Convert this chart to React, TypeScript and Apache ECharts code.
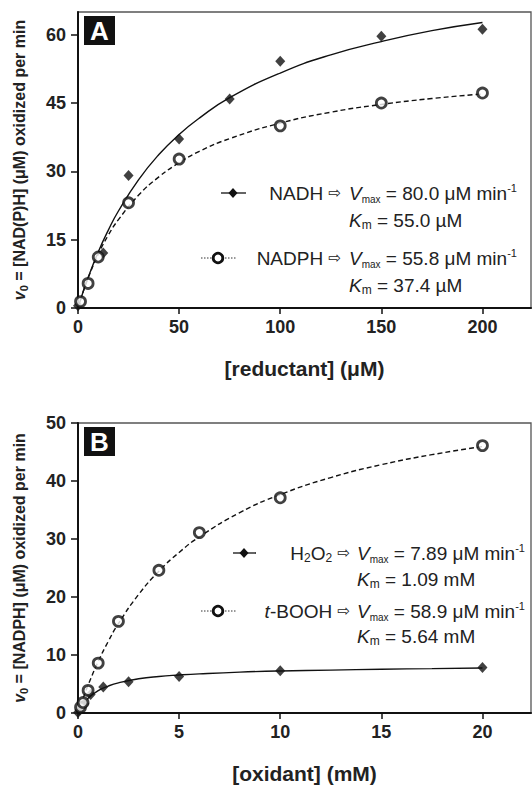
import React, { useEffect, useRef } from "react";
import * as echarts from "echarts";

// ---- tick labels ----
const reductantTicks = [0, 50, 100, 150, 200];
const rateTicksA = [0, 15, 30, 45, 60];
const oxidantTicks = [0, 5, 10, 15, 20];
const rateTicksB = [0, 10, 20, 30, 40, 50];

// ---- Panel A measured points ----
const nadhConc = [0, 12.5, 25, 50, 75, 100, 150, 200];
const nadhRate = [0.5, 12.1, 29.1, 37.1, 45.9, 54.2, 59.7, 61.2];
const nadphConc = [1.25, 5, 10, 25, 50, 100, 150, 200];
const nadphRate = [1.4, 5.4, 11.2, 23.1, 32.7, 40.0, 45.0, 47.2];

// ---- Panel A fitted curves ----
const fitConcA = [0, 2.5, 5, 10, 15, 20, 30, 40, 50, 60, 75, 100, 125, 150, 175, 200];
const nadhFit = [0, 3.5, 6.7, 12.3, 17.1, 21.3, 28.2, 33.7, 38.1, 41.7, 46.2, 51.6, 55.6, 58.5, 60.9, 62.7];
const nadphFit = [0, 3.5, 6.6, 11.8, 16.0, 19.4, 24.8, 28.8, 31.9, 34.4, 37.2, 40.6, 43.0, 44.7, 46.0, 47.0];

// ---- Panel B measured points ----
const h2o2Conc = [0, 0.078, 0.156, 0.3125, 0.625, 1.25, 2.5, 5, 10, 20];
const h2o2Rate = [0.1, 0.5, 0.9, 1.6, 3.2, 4.5, 5.4, 6.3, 7.3, 7.85];
const tboohConc = [0.125, 0.25, 0.5, 1, 2, 4, 6, 10, 20];
const tboohRate = [1.0, 1.8, 3.9, 8.6, 15.8, 24.6, 31.1, 37.1, 46.1];

// ---- Panel B fitted curves ----
const fitConcB = [0, 0.125, 0.25, 0.5, 1, 1.5, 2, 3, 4, 5, 6, 8, 10, 12.5, 15, 17.5, 20];
const h2o2Fit = [0, 0.85, 1.5, 2.55, 3.85, 4.65, 5.2, 5.9, 6.3, 6.55, 6.75, 7.05, 7.25, 7.4, 7.55, 7.65, 7.75];
const tboohFit = [0, 1.28, 2.5, 4.8, 8.87, 12.37, 15.42, 20.45, 24.44, 27.68, 30.36, 34.55, 37.66, 40.59, 42.81, 44.54, 45.94];

const FONT = "'Liberation Sans', Arial, Helvetica, sans-serif";
const INK = "#111";
const TXT = "#222";

const zip = (xs: number[], ys: number[]) => xs.map((x, i) => [x, ys[i]]);

const rich = {
  t: { fontSize: 19, fontFamily: FONT, color: TXT, lineHeight: 22 },
  i: { fontSize: 19, fontFamily: FONT, color: TXT, fontStyle: "italic", lineHeight: 22 },
  sub: { fontSize: 10, fontFamily: FONT, color: TXT, lineHeight: 10, verticalAlign: "bottom" },
  subm: { fontSize: 12, fontFamily: FONT, color: TXT, lineHeight: 12, verticalAlign: "bottom" },
  sup: { fontSize: 11, fontFamily: FONT, color: TXT, lineHeight: 11, verticalAlign: "top" },
  ar: { fontSize: 15, fontFamily: "'DejaVu Sans', sans-serif", color: "#333", lineHeight: 22 },
};

const titleRich = {
  b: { fontSize: 16, fontFamily: FONT, fontWeight: "bold", color: TXT, lineHeight: 20 },
  v: { fontSize: 16, fontFamily: FONT, fontWeight: "bold", fontStyle: "italic", color: TXT, lineHeight: 20 },
  s: { fontSize: 11, fontFamily: FONT, fontWeight: "bold", color: TXT, lineHeight: 11, verticalAlign: "bottom" },
};

function xAxisCfg(grid: number, max: number, ticks: number[], name: string, gap: number) {
  return {
    type: "value",
    gridIndex: grid,
    min: 0,
    max,
    interval: ticks[1] - ticks[0],
    name,
    nameLocation: "middle",
    nameGap: gap,
    nameTextStyle: { fontSize: 21, fontWeight: "bold", fontFamily: FONT, color: TXT },
    axisLine: { show: true, onZero: false, lineStyle: { color: INK, width: 2 } },
    axisTick: { show: true, length: 6, customValues: ticks, lineStyle: { color: INK, width: 1.5 } },
    axisLabel: { customValues: ticks, margin: 10, fontSize: 18, fontWeight: "bold", fontFamily: FONT, color: TXT },
    splitLine: { show: false },
  };
}

function yAxisCfg(grid: number, max: number, ticks: number[], name: string) {
  return {
    type: "value",
    gridIndex: grid,
    min: 0,
    max,
    interval: ticks[1] - ticks[0],
    name,
    nameLocation: "middle",
    nameGap: 49,
    nameTextStyle: { rich: titleRich },
    axisLine: { show: true, onZero: false, lineStyle: { color: INK, width: 2 } },
    axisTick: { show: true, length: 7, customValues: ticks, lineStyle: { color: INK, width: 1.5 } },
    axisLabel: { customValues: ticks, margin: 12, fontSize: 18, fontWeight: "bold", fontFamily: FONT, color: TXT },
    splitLine: { show: false },
  };
}

function diamondIcon(cx: number, cy: number) {
  return {
    type: "polygon",
    shape: { points: [[cx, cy - 5], [cx + 4.5, cy], [cx, cy + 5], [cx - 4.5, cy]] },
    style: { fill: INK },
  };
}

function legendRows(
  y1: number, y2: number, y3: number, y4: number,
  splitX: number, vx: number,
  row1Left: string, row1Right: string, row2: string,
  row3Left: string, row3Right: string, row4: string,
  icon1: [number, number, number], icon2: [number, number, number]
) {
  const els: any[] = [];
  els.push({ type: "line", shape: { x1: icon1[0], y1: y1, x2: icon1[2], y2: y1 }, style: { stroke: INK, lineWidth: 1.3 } });
  els.push(diamondIcon(icon1[1], y1));
  els.push({ type: "line", shape: { x1: icon2[0], y1: y3, x2: icon2[2], y2: y3 }, style: { stroke: "#333", lineWidth: 1, lineDash: [1.5, 1.5] } });
  els.push({ type: "circle", shape: { cx: icon2[1], cy: y3, r: 4.8 }, style: { fill: "#fff", stroke: INK, lineWidth: 2.8 } });
  const txt = (x: number, y: number, text: string, align: string) => ({
    type: "text", x, y,
    style: { text, rich, align, verticalAlign: "middle", fill: TXT, font: `19px ${FONT}` },
  });
  els.push(txt(splitX, y1, row1Left, "right"));
  els.push(txt(vx, y1, row1Right, "left"));
  els.push(txt(vx, y2, row2, "left"));
  els.push(txt(splitX, y3, row3Left, "right"));
  els.push(txt(vx, y3, row3Right, "left"));
  els.push(txt(vx, y4, row4, "left"));
  return els;
}

function panelLabel(x: number, y: number, letter: string) {
  return [
    { type: "rect", shape: { x, y, width: 31, height: 29 }, style: { fill: INK } },
    {
      type: "text", x: x + 15.5, y: y + 15,
      style: { text: letter, fill: "#fff", font: `bold 26px ${FONT}`, align: "center", verticalAlign: "middle" },
    },
  ];
}

export default function App() {
  const ref = useRef<HTMLDivElement>(null);
  useEffect(() => {
    if (!ref.current) return;
    const chart = echarts.init(ref.current, null, { renderer: "svg" });

    const lineBase = { type: "line", showSymbol: false, smooth: true, silent: true, z: 2 };
    const diamond = {
      type: "scatter", symbol: "diamond", symbolSize: [10, 11],
      itemStyle: { color: INK }, z: 4, clip: false,
    };
    const ring = {
      type: "scatter", symbol: "circle", symbolSize: 10,
      itemStyle: { color: "#fff", borderColor: INK, borderWidth: 2.8 }, z: 5, clip: false,
    };

    const graphic: any[] = [
      ...panelLabel(84, 16, "A"),
      ...panelLabel(84, 427, "B"),
      ...legendRows(
        193, 220, 258, 285, 341, 349,
        "{t|NADH }{ar|⇨}", "{i|V}{sub|max}{t| = 80.0 μM min}{sup|-1}", "{i|K}{subm|m}{t| = 55.0 µM}",
        "{t|NADPH }{ar|⇨}", "{i|V}{sub|max}{t| = 55.8 μM min}{sup|-1}", "{i|K}{subm|m}{t| = 37.4 µM}",
        [221, 233, 246], [201, 218, 236]
      ),
      ...legendRows(
        553, 579, 611, 636, 350, 357,
        "{t|H}{subm|2}{t|O}{subm|2}{t| }{ar|⇨}", "{i|V}{sub|max}{t| = 7.89 μM min}{sup|-1}", "{i|K}{subm|m}{t| = 1.09 mM}",
        "{i|t}{t|-BOOH }{ar|⇨}", "{i|V}{sub|max}{t| = 58.9 μM min}{sup|-1}", "{i|K}{subm|m}{t| = 5.64 mM}",
        [233, 244, 256], [201, 218, 236]
      ),
    ];

    chart.setOption({
      animation: false,
      backgroundColor: "#fff",
      grid: [
        { left: 78, top: 12, width: 453, height: 296, show: true, borderColor: "#555", borderWidth: 1.3, backgroundColor: "transparent" },
        { left: 78, top: 423, width: 453, height: 295, show: true, borderColor: "#555", borderWidth: 1.3, backgroundColor: "transparent" },
      ],
      xAxis: [
        xAxisCfg(0, 224, reductantTicks, "[reductant] (μM)", 50),
        xAxisCfg(1, 22.4, oxidantTicks, "[oxidant] (mM)", 50),
      ],
      yAxis: [
        yAxisCfg(0, 65, rateTicksA, "{v|v}{s|0}{b| = [NAD(P)H] (μM) oxidized per min}"),
        yAxisCfg(1, 50, rateTicksB, "{v|v}{s|0}{b| = [NADPH] (μM) oxidized per min}"),
      ],
      series: [
        { ...lineBase, name: "NADH fit", xAxisIndex: 0, yAxisIndex: 0, data: zip(fitConcA, nadhFit), lineStyle: { color: INK, width: 1.4 } },
        { ...lineBase, name: "NADPH fit", xAxisIndex: 0, yAxisIndex: 0, data: zip(fitConcA, nadphFit), lineStyle: { color: INK, width: 1.4, type: [5, 3] } },
        { ...diamond, name: "NADH", xAxisIndex: 0, yAxisIndex: 0, data: zip(nadhConc, nadhRate) },
        { ...ring, name: "NADPH", xAxisIndex: 0, yAxisIndex: 0, data: zip(nadphConc, nadphRate) },
        { ...lineBase, name: "H2O2 fit", xAxisIndex: 1, yAxisIndex: 1, data: zip(fitConcB, h2o2Fit), lineStyle: { color: INK, width: 1.4 } },
        { ...lineBase, name: "t-BOOH fit", xAxisIndex: 1, yAxisIndex: 1, data: zip(fitConcB, tboohFit), lineStyle: { color: INK, width: 1.4, type: [5, 3] } },
        { ...diamond, name: "H2O2", xAxisIndex: 1, yAxisIndex: 1, data: zip(h2o2Conc, h2o2Rate) },
        { ...ring, name: "t-BOOH", xAxisIndex: 1, yAxisIndex: 1, data: zip(tboohConc, tboohRate) },
      ],
      graphic,
    });
    return () => chart.dispose();
  }, []);
  return <div ref={ref} style={{ position: "absolute", left: 0, top: 0, width: 532, height: 785 }} />;
}
